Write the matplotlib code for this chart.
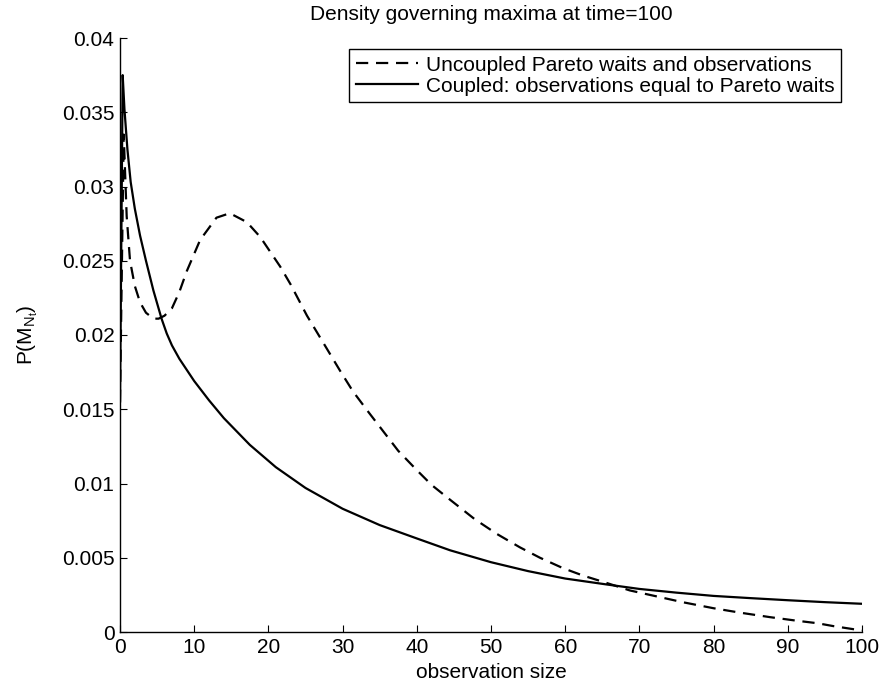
import matplotlib
matplotlib.use("Agg")
import matplotlib.pyplot as plt

plt.rcParams['font.family'] = ['Liberation Sans', 'DejaVu Sans']
plt.rcParams['mathtext.fontset'] = 'custom'
plt.rcParams['mathtext.rm'] = 'Liberation Sans'

title = "Density governing maxima at time=100"
xlabel = "observation size"
ylabel = r"P(M$_{\mathregular{N_t}}$)"
labels = ["Uncoupled Pareto waits and observations",
          "Coupled: observations equal to Pareto waits"]

uncoupled_x = [0, 0.5, 0.9, 1.35, 2.0, 2.7, 3.5, 4.5, 5.2, 6.0, 7.0, 8.0, 9.0, 10.8,
               13.0, 14.8, 17.1, 18.9, 21.6, 23.0, 25.2, 27.85, 29.65, 31.4, 33.5,
               35.5, 37.5, 40.0, 42.0, 44.5, 47.8, 50.8, 53.9, 56.6, 59.7, 62.4, 65.6,
               68.7, 72.3, 75.9, 80.0, 83.6, 87.6, 91.2, 94.0, 96.1, 100.0]
uncoupled_y = [0.0155, 0.0335, 0.0280, 0.0250, 0.0233, 0.0222, 0.0215, 0.0211,
               0.0211, 0.0213, 0.0218, 0.0229, 0.0243, 0.0264, 0.0279, 0.0282,
               0.0276, 0.0266, 0.0246, 0.0234, 0.0213, 0.0191, 0.0176, 0.0162,
               0.0148, 0.0135, 0.0122, 0.0109, 0.0099, 0.0089, 0.0076, 0.0066, 0.0057,
               0.0050, 0.0043, 0.0038, 0.0033, 0.0028, 0.0024, 0.0020, 0.0016,
               0.0013, 0.0010, 0.00076, 0.00059, 0.0004, 0.0001]

coupled_x = [0, 0.36, 0.6, 1.0, 1.44, 2.0, 2.7, 3.5, 4.5, 5.6, 6.3, 7.0, 8.0, 10.0,
             12.0, 14.0, 17.5, 21.0, 25.0, 30.0, 35.0, 40.0, 44.5, 50.0, 55.0,
             60.0, 65.6, 70.0, 75.0, 80.0, 85.0, 90.0, 95.0, 100.0]
coupled_y = [0.0155, 0.0375, 0.0352, 0.0325, 0.0303, 0.0285, 0.0267, 0.0250,
             0.0230, 0.0211, 0.0201, 0.0193, 0.0184, 0.0169, 0.0156, 0.0144,
             0.0126, 0.0111, 0.0097, 0.0083, 0.0072, 0.0063, 0.0055, 0.0047,
             0.0041, 0.0036, 0.0032, 0.0029, 0.00265, 0.00243, 0.00228,
             0.00214, 0.00201, 0.0019]

xticks = list(range(0, 101, 10))
yticks = [0, 0.005, 0.01, 0.015, 0.02, 0.025, 0.03, 0.035, 0.04]
yticklabels = ["0", "0.005", "0.01", "0.015", "0.02", "0.025", "0.03", "0.035", "0.04"]

FS = 15

fig = plt.figure(figsize=(8.82, 6.92), dpi=100)
ax = fig.add_axes([120/882, 1-632/692, 742/882, 594/692])

ax.plot(uncoupled_x, uncoupled_y, color='black', lw=1.6, linestyle=(0, (5.5, 3.5)),
        label=labels[0])
ax.plot(coupled_x, coupled_y, color='black', lw=1.6, label=labels[1])

ax.set_xlim(0, 100)
ax.set_ylim(0, 0.04)
ax.set_xticks(xticks)
ax.set_yticks(yticks)
ax.set_yticklabels(yticklabels)
ax.tick_params(direction='in', length=5, width=0.8, labelsize=FS, pad=4, colors='black')
for s in ['top', 'right']:
    ax.spines[s].set_visible(False)
for s in ['left', 'bottom']:
    ax.spines[s].set_linewidth(1.0)

ax.set_title(title, fontsize=FS, pad=13)
ax.set_xlabel(xlabel, fontsize=FS, labelpad=5)
ax.set_ylabel(ylabel, fontsize=FS, labelpad=16)

leg = ax.legend(loc='upper left', bbox_to_anchor=(0.309, 0.981), borderaxespad=0,
                fontsize=FS, handlelength=3.0, handletextpad=0.4, labelspacing=0.1,
                borderpad=0.3, fancybox=False, framealpha=1, edgecolor='black')
leg.get_frame().set_linewidth(1.0)

fig.savefig("out.png", dpi=100)
